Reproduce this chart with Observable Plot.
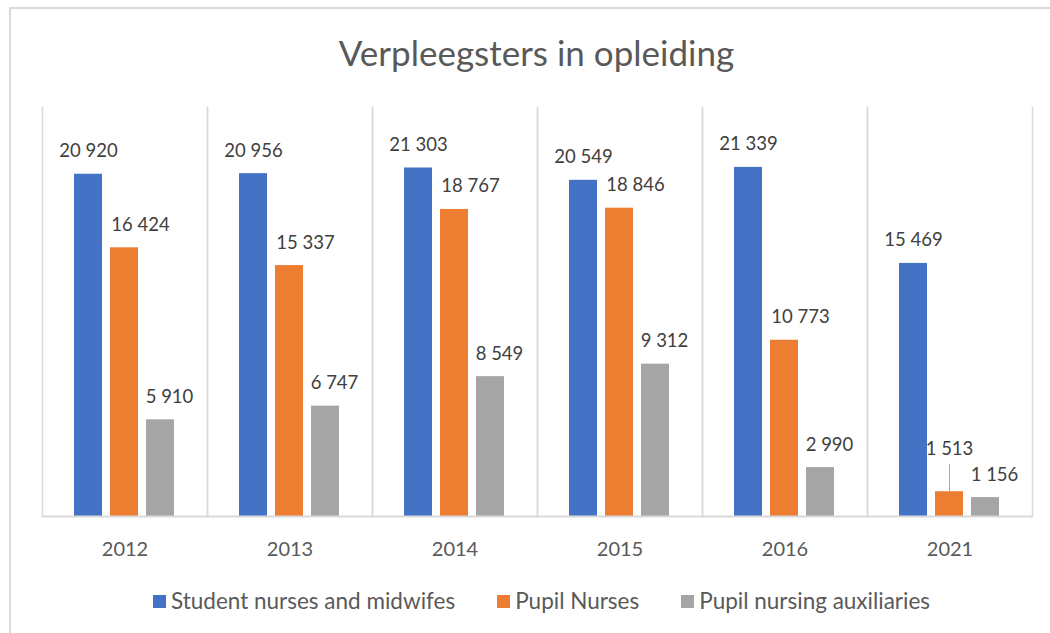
<!DOCTYPE html>
<html>
<head>
<meta charset="utf-8">
<script src="https://cdn.jsdelivr.net/npm/d3@7"></script>
<script src="https://cdn.jsdelivr.net/npm/@observablehq/plot@0.6"></script>
<style>
  body { margin: 0; background: #fff; font-family: Lato, "Open Sans", sans-serif; }
  #wrap { position: relative; width: 1050px; height: 633px; overflow: hidden; background: #fff; }
  #border { position: absolute; left: 9px; top: 7px; width: 1200px; height: 800px; border: 2px solid #d9d9d9; box-sizing: border-box; }
  #title { position: absolute; top: 31px; left: 40px; width: 993px; text-align: center; font-size: 35px; color: #595959; line-height: normal; }
  #chart { position: absolute; left: 0; top: 0; }
  #legend { position: absolute; top: 588px; left: 153px; display: flex; align-items: center; font-size: 22.5px; color: #595959; line-height: 26px; }
  .item { display: flex; align-items: center; margin-right: 42px; }
  .sw { width: 13px; height: 13px; margin-right: 5px; }
</style>
</head>
<body>
<div id="wrap">
  <div id="border"></div>
  <div id="chart"></div>
  <div id="title">Verpleegsters in opleiding</div>
  <div id="legend"></div>
</div>
<script>
// ---- data ----
const years = ["2012", "2013", "2014", "2015", "2016", "2021"];
const seriesNames = ["Student nurses and midwifes", "Pupil Nurses", "Pupil nursing auxiliaries"];
const studentNurses = [20920, 20956, 21303, 20549, 21339, 15469];
const pupilNurses = [16424, 15337, 18767, 18846, 10773, 1513];
const pupilAuxiliaries = [5910, 6747, 8549, 9312, 2990, 1156];
const seriesColors = ["#4472C4", "#ED7D31", "#A5A5A5"];

// label nudges (style), per series, plus one callout label with a leader line
const labelNudge = [0, 16, 9];
const callouts = [{year: "2021", series: "Pupil Nurses"}];

const seriesValues = [studentNurses, pupilNurses, pupilAuxiliaries];
const table = years.flatMap((y, i) => seriesNames.map((s, j) => ({year: y, series: s, value: seriesValues[j][i]})));
const isCallout = d => callouts.some(c => c.year === d.year && c.series === d.series);

const fmt = d3.formatLocale({decimal: ",", thousands: " ", grouping: [3], currency: ["", ""]}).format(",d");

const labelMarks = seriesNames.map((s, j) =>
  Plot.text(table.filter(d => d.series === s && !isCallout(d)), {
    fx: "year", x: "series", y: "value", text: d => fmt(d.value),
    dy: -17, dx: labelNudge[j], lineAnchor: "bottom", fill: "#404040", fontSize: 18.5
  })
);

const plot = Plot.plot({
  width: 1050,
  height: 575,
  marginLeft: 40,
  marginRight: 17,
  marginTop: 107,
  marginBottom: 59,
  style: {fontFamily: "Lato, 'Open Sans', sans-serif", background: "transparent"},
  fx: {domain: years, padding: 0, label: null},
  x: {domain: seriesNames, paddingInner: 0.21, paddingOuter: 0.864, axis: null},
  y: {domain: [0, 25000], axis: null},
  color: {domain: seriesNames, range: seriesColors},
  marks: [
    Plot.frame({anchor: "left", stroke: "#d9d9d9", strokeWidth: 1.5}),
    Plot.frame({anchor: "right", stroke: "#d9d9d9", strokeWidth: 1.5}),
    Plot.barY(table, {fx: "year", x: "series", y: "value", fill: "series"}),
    Plot.ruleY([0], {stroke: "#d9d9d9", strokeWidth: 2}),
    ...labelMarks,
    Plot.ruleX(table.filter(isCallout), {fx: "year", x: "series", y1: "value", y2: "value", insetTop: -27, stroke: "#a6a6a6", strokeWidth: 1}),
    Plot.text(table.filter(isCallout), {
      fx: "year", x: "series", y: "value", text: d => fmt(d.value),
      dy: -37, lineAnchor: "bottom", fill: "#404040", fontSize: 18.5
    }),
    Plot.axisFx({anchor: "bottom", tickSize: 0, tickPadding: 25, fontSize: 20, fill: "#595959", label: null})
  ]
});
document.getElementById("chart").appendChild(plot);

const legend = document.getElementById("legend");
seriesNames.forEach((s, j) => {
  const item = document.createElement("div");
  item.className = "item";
  const sw = document.createElement("div");
  sw.className = "sw";
  sw.style.background = seriesColors[j];
  const t = document.createElement("span");
  t.textContent = s;
  item.appendChild(sw);
  item.appendChild(t);
  legend.appendChild(item);
});
</script>
</body>
</html>
